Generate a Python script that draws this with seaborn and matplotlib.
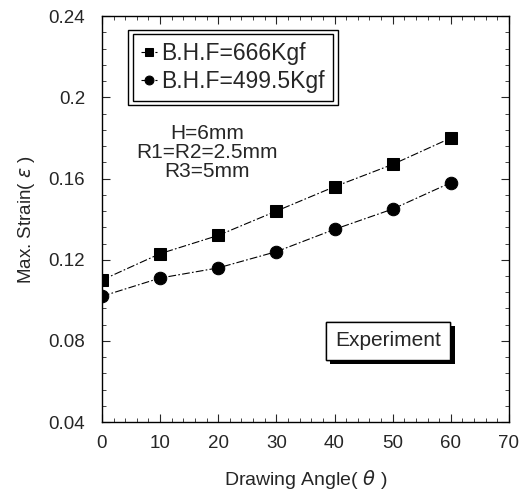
import pandas as pd
import numpy as np
import matplotlib
matplotlib.use("Agg")
import matplotlib.pyplot as plt
import matplotlib.patheffects as pe
from matplotlib.patches import Rectangle
from matplotlib.ticker import MultipleLocator, AutoMinorLocator
import seaborn as sns

# data
angle = [0, 10, 20, 30, 40, 50, 60]
strain_666 = [0.110, 0.123, 0.132, 0.144, 0.156, 0.167, 0.180]
strain_4995 = [0.102, 0.111, 0.116, 0.124, 0.135, 0.145, 0.158]
series_names = ["B.H.F=666Kgf", "B.H.F=499.5Kgf"]

df = pd.DataFrame({
    "angle": angle * 2,
    "strain": strain_666 + strain_4995,
    "series": [series_names[0]] * len(angle) + [series_names[1]] * len(angle),
})

sns.set_style("ticks")
plt.rcParams["font.family"] = ["Liberation Sans", "DejaVu Sans"]

fig = plt.figure(figsize=(5.28, 4.92), dpi=100)
ax = fig.add_axes([0.193, 0.142, 0.771, 0.825])

dash = (0, (7, 2, 1.5, 2))
sns.lineplot(data=df, x="angle", y="strain", hue="series", style="series",
             markers={series_names[0]: "s", series_names[1]: "o"},
             dashes=False, palette=["black", "black"], linewidth=0.8,
             markersize=8, markeredgecolor="black", ax=ax)
for line in ax.lines:
    line.set_linestyle(dash)
ax.lines[1].set_markersize(9)

ax.set_xlim(0, 70)
ax.set_ylim(0.04, 0.24)
ax.xaxis.set_major_locator(MultipleLocator(10))
ax.xaxis.set_minor_locator(AutoMinorLocator(5))
ax.set_yticks([0.04, 0.08, 0.12, 0.16, 0.2, 0.24])
ax.set_yticklabels(["0.04", "0.08", "0.12", "0.16", "0.2", "0.24"])
ax.yaxis.set_minor_locator(AutoMinorLocator(5))
ax.tick_params(which="both", direction="in", top=True, right=True, labelsize=13.5)
ax.tick_params(which="major", length=6, width=0.8)
ax.tick_params(which="minor", length=3, width=0.6)
ax.tick_params(axis="x", pad=9)
ax.tick_params(axis="y", pad=12)
for s in ax.spines.values():
    s.set_linewidth(1.0)
    s.set_color("black")

ax.set_xlabel("Drawing Angle( $\\theta$ )", fontsize=14, labelpad=12)
ax.set_ylabel("Max. Strain( $\\epsilon$ )", fontsize=13.5, labelpad=8)

leg = ax.legend(loc="upper left", bbox_to_anchor=(0.076, 0.956), fontsize=16.5,
                frameon=True, fancybox=False, edgecolor="black", framealpha=1,
                handlelength=0.7, handletextpad=0.2, borderpad=0.35,
                labelspacing=0.2, markerscale=0.8, borderaxespad=0, title=None)
leg.get_frame().set_linewidth(1.0)

fig.canvas.draw()
bb = leg.get_window_extent().transformed(ax.transAxes.inverted())
pad_x, pad_y = 0.011, 0.011
ax.add_patch(Rectangle((bb.x0 - pad_x, bb.y0 - pad_y), bb.width + 2 * pad_x,
                       bb.height + 2 * pad_y, transform=ax.transAxes,
                       fill=False, edgecolor="black", linewidth=1.0, zorder=6))

ax.text(0.258, 0.665, "H=6mm\nR1=R2=2.5mm\nR3=5mm", transform=ax.transAxes,
        ha="center", va="center", fontsize=15, linespacing=1.0)

t = ax.text(0.703, 0.2, "Experiment", transform=ax.transAxes, ha="center",
            va="center", fontsize=15,
            bbox=dict(boxstyle="square,pad=0.45", fc="white", ec="black", lw=1.0))
t.get_bbox_patch().set_path_effects([
    pe.withSimplePatchShadow(offset=(3, -3), shadow_rgbFace="black", alpha=1),
    pe.Normal()])

fig.savefig("out.png", dpi=100)
